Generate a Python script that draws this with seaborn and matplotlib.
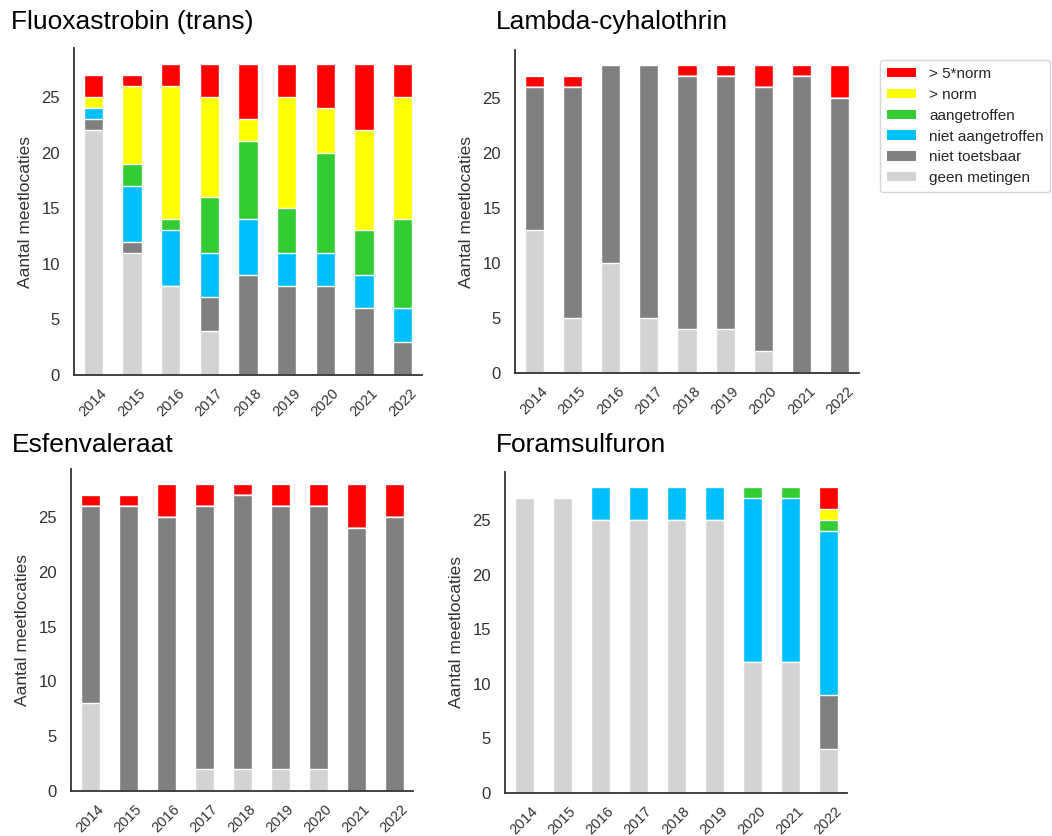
import matplotlib
matplotlib.use("Agg")
import matplotlib.pyplot as plt
from matplotlib.patches import Patch
import numpy as np
import pandas as pd
import seaborn as sns

years = ["2014", "2015", "2016", "2017", "2018", "2019", "2020", "2021", "2022"]

# stack order, bottom to top
categories = ["geen metingen", "niet toetsbaar", "niet aangetroffen",
              "aangetroffen", "> norm", "> 5*norm"]
colors = ["#d3d3d3", "#808080", "#00bfff", "#33cc33", "#ffff00", "#ff0000"]

# Fluoxastrobin (trans)
fluox_geen = [22, 11, 8, 4, 0, 0, 0, 0, 0]
fluox_toets = [1, 1, 0, 3, 9, 8, 8, 6, 3]
fluox_niet_aang = [1, 5, 5, 4, 5, 3, 3, 3, 3]
fluox_aang = [0, 2, 1, 5, 7, 4, 9, 4, 8]
fluox_norm = [1, 7, 12, 9, 2, 10, 4, 9, 11]
fluox_5norm = [2, 1, 2, 3, 5, 3, 4, 6, 3]

# Lambda-cyhalothrin
lambda_geen = [13, 5, 10, 5, 4, 4, 2, 0, 0]
lambda_toets = [13, 21, 18, 23, 23, 23, 24, 27, 25]
lambda_niet_aang = [0, 0, 0, 0, 0, 0, 0, 0, 0]
lambda_aang = [0, 0, 0, 0, 0, 0, 0, 0, 0]
lambda_norm = [0, 0, 0, 0, 0, 0, 0, 0, 0]
lambda_5norm = [1, 1, 0, 0, 1, 1, 2, 1, 3]

# Esfenvaleraat
esfen_geen = [8, 0, 0, 2, 2, 2, 2, 0, 0]
esfen_toets = [18, 26, 25, 24, 25, 24, 24, 24, 25]
esfen_niet_aang = [0, 0, 0, 0, 0, 0, 0, 0, 0]
esfen_aang = [0, 0, 0, 0, 0, 0, 0, 0, 0]
esfen_norm = [0, 0, 0, 0, 0, 0, 0, 0, 0]
esfen_5norm = [1, 1, 3, 2, 1, 2, 2, 4, 3]

# Foramsulfuron
foram_geen = [27, 27, 25, 25, 25, 25, 12, 12, 4]
foram_toets = [0, 0, 0, 0, 0, 0, 0, 0, 5]
foram_niet_aang = [0, 0, 3, 3, 3, 3, 15, 15, 15]
foram_aang = [0, 0, 0, 0, 0, 0, 1, 1, 1]
foram_norm = [0, 0, 0, 0, 0, 0, 0, 0, 1]
foram_5norm = [0, 0, 0, 0, 0, 0, 0, 0, 2]

panels = [
    ("Fluoxastrobin (trans)",
     [fluox_geen, fluox_toets, fluox_niet_aang, fluox_aang, fluox_norm, fluox_5norm]),
    ("Lambda-cyhalothrin",
     [lambda_geen, lambda_toets, lambda_niet_aang, lambda_aang, lambda_norm, lambda_5norm]),
    ("Esfenvaleraat",
     [esfen_geen, esfen_toets, esfen_niet_aang, esfen_aang, esfen_norm, esfen_5norm]),
    ("Foramsulfuron",
     [foram_geen, foram_toets, foram_niet_aang, foram_aang, foram_norm, foram_5norm]),
]

sns.set_theme(style="white")
plt.rcParams["font.family"] = ["Liberation Sans", "DejaVu Sans"]

W, H = 1052, 836
fig = plt.figure(figsize=(W / 100, H / 100), dpi=100)

# axes boxes in pixels: left, top, right, bottom
boxes = [(74, 48, 422, 375), (515, 50, 859, 373),
         (71, 469, 413, 791), (505, 472, 847, 793)]
title_pos = [(11, 22), (496, 22), (12, 445), (496, 445)]

for (title, series), (l, t, r, b), (tx, ty) in zip(panels, boxes, title_pos):
    ax = fig.add_axes([l / W, 1 - b / H, (r - l) / W, (b - t) / H])
    df = pd.DataFrame(dict(zip(categories, series)), index=years)
    cum = df.cumsum(axis=1)
    # draw from the full stack downward so each layer covers the one above it
    for cat, col in zip(categories[::-1], colors[::-1]):
        sns.barplot(x=years, y=cum[cat].values, color=col, width=0.5,
                    edgecolor="white", linewidth=1.0, saturation=1, ax=ax)
    ax.set_xlim(-0.5, len(years) - 0.5)
    ax.set_ylim(0, 29.4)
    ax.set_yticks([0, 5, 10, 15, 20, 25])
    ax.set_ylabel("Aantal meetlocaties", fontsize=12.5, color="#333333", labelpad=6)
    ax.set_xlabel("")
    ax.tick_params(axis="x", labelrotation=45, labelsize=10.5, colors="#333333", pad=2)
    ax.tick_params(axis="y", labelsize=12, colors="#333333", pad=4)
    sns.despine(ax=ax)
    for side in ["left", "bottom"]:
        ax.spines[side].set_color("#333333")
        ax.spines[side].set_linewidth(1.3)
    fig.text(tx / W, 1 - ty / H, title, fontsize=19, ha="left", va="center",
             color="black")

handles = [Patch(facecolor=c, edgecolor="none", label=n)
           for n, c in zip(categories[::-1], colors[::-1])]
fig.legend(handles=handles, loc="upper left", bbox_to_anchor=(880 / W, 1 - 60 / H),
           borderaxespad=0, fontsize=11, frameon=True, edgecolor="#cccccc",
           handlelength=1.9, handleheight=0.55, labelspacing=0.45,
           borderpad=0.45, handletextpad=0.85)

fig.savefig("out.png", dpi=100)
